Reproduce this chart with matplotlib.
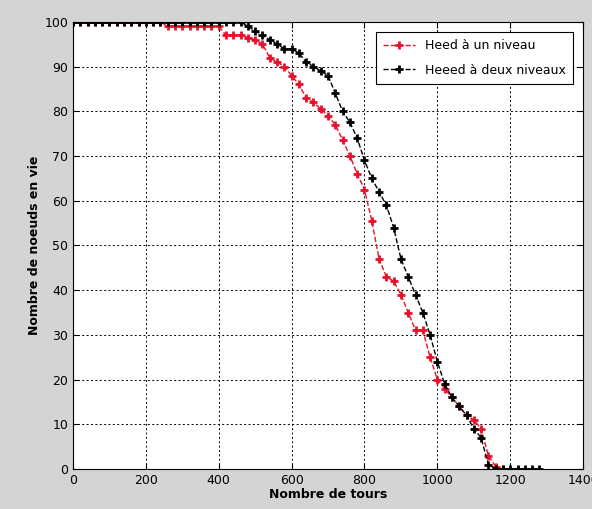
import matplotlib
matplotlib.use("Agg")
import matplotlib.pyplot as plt

# Rounds
x_black = list(range(0, 1281, 20))
y_black = [100]*24 + [99, 98, 97, 96, 95, 94, 94, 93, 91, 90, 89, 88, 84, 80, 77.5, 74,
                      69, 65, 62, 59, 54, 47, 43, 39, 35, 30, 24, 19, 16, 14, 12, 9, 7, 1] + [0]*7

x_red = list(range(0, 1181, 20))
y_red = [100]*13 + [99]*8 + [97, 97, 97, 96.5, 96, 95, 92, 91, 90, 88, 86, 83, 82, 80.5, 79, 77,
                    73.6, 70, 66, 62.5, 55.5, 47, 43, 42, 39, 35, 31, 31, 25, 20, 18, 16, 14,
                    12, 11, 9, 3, 0.5, 0]

labels = ["Heed à un niveau", "Heeed à deux niveaux"]
xticks = [0, 200, 400, 600, 800, 1000, 1200, 1400]
yticks = list(range(0, 101, 10))

fig = plt.figure(figsize=(5.92, 5.09), dpi=100, facecolor="#d4d4d4")
ax = fig.add_axes([0.1233, 0.0786, 0.985 - 0.1233, 0.957 - 0.0786])
ax.set_facecolor("white")

ax.plot(x_red, y_red, linestyle="--", color="#e8102a", marker="+", markersize=6,
        markeredgewidth=2, linewidth=1, label=labels[0])
ax.plot(x_black, y_black, linestyle="--", color="black", marker="+", markersize=6,
        markeredgewidth=2, linewidth=1, label=labels[1])

ax.set_xlim(0, 1400)
ax.set_ylim(0, 100)
ax.set_xticks(xticks)
ax.set_yticks(yticks)
ax.tick_params(direction="in", labelsize=9, top=True, right=True, length=4)
ax.grid(True, linestyle=(0, (2, 2.5)), color="black", linewidth=0.7)

ax.set_xlabel("Nombre de tours", fontsize=9, fontweight="bold", labelpad=1)
ax.set_ylabel("Nombre de noeuds en vie", fontsize=9, fontweight="bold", labelpad=2)

leg = ax.legend(loc="upper right", fontsize=9, fancybox=False, framealpha=1,
                edgecolor="black", borderaxespad=0.8, handlelength=2.5,
                labelspacing=0.9, borderpad=0.6)
leg.get_frame().set_linewidth(0.8)

fig.savefig("out.png", dpi=100, facecolor=fig.get_facecolor())
